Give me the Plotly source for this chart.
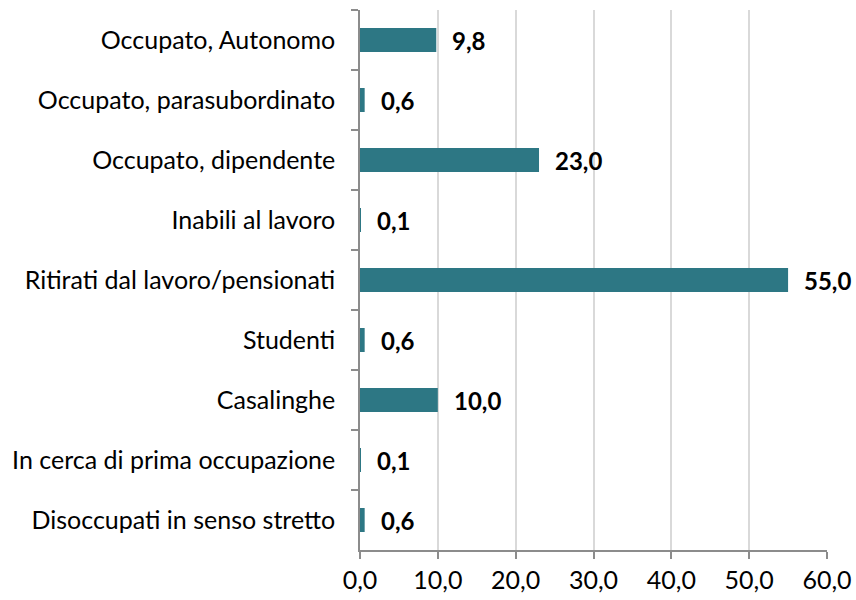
import plotly.graph_objects as go

categories = [
    "Occupato, Autonomo",
    "Occupato, parasubordinato",
    "Occupato, dipendente",
    "Inabili al lavoro",
    "Ritirati dal lavoro/pensionati",
    "Studenti",
    "Casalinghe",
    "In cerca di prima occupazione",
    "Disoccupati in senso stretto",
]
values = [9.8, 0.6, 23.0, 0.1, 55.0, 0.6, 10.0, 0.1, 0.6]
x_ticks = [0, 10, 20, 30, 40, 50, 60]

FONT = "Lato, Carlito, Calibri, sans-serif"
BAR = "#2D7784"

fig = go.Figure()
fig.add_trace(go.Bar(
    y=categories, x=values, orientation="h",
    marker=dict(color=BAR, line=dict(width=0)),
    width=0.4,
))

for c, v in zip(categories, values):
    fig.add_annotation(
        x=v, y=c, text=f"<b>{v:.1f}".replace(".", ",") + "</b>",
        showarrow=False, xanchor="left", xshift=14,
        font=dict(family=FONT, size=24, color="black"),
    )

fig.update_layout(
    width=856, height=600,
    margin=dict(l=360, r=29, t=10, b=50),
    paper_bgcolor="white", plot_bgcolor="white",
    separators=",.",
    showlegend=False,
    font=dict(family=FONT, size=25, color="black"),
    bargap=0.6,
)
fig.update_xaxes(
    range=[0, 60], tickvals=x_ticks, tickformat=".1f",
    showgrid=True, gridcolor="#D9D9D9", gridwidth=1.5,
    showline=True, linecolor="#8C8C8C", linewidth=1.5,
    ticks="outside", ticklen=7, tickcolor="#8C8C8C", tickwidth=1.5,
    zeroline=False, automargin=False,
    tickfont=dict(family=FONT, size=25, color="black"),
)
fig.update_yaxes(
    categoryorder="array", categoryarray=categories, autorange="reversed",
    showline=True, linecolor="#8C8C8C", linewidth=1.5,
    ticks="outside", ticklen=7, tickcolor="#8C8C8C", tickwidth=1.5,
    tickson="boundaries", showgrid=False, automargin=False,
    ticklabelstandoff=18,
    tickfont=dict(family=FONT, size=25, color="black"),
)

fig.write_html(
    "out.html",
    config={"displayModeBar": False},
    post_script="document.body.style.margin='0';document.body.style.overflow='hidden';",
)
